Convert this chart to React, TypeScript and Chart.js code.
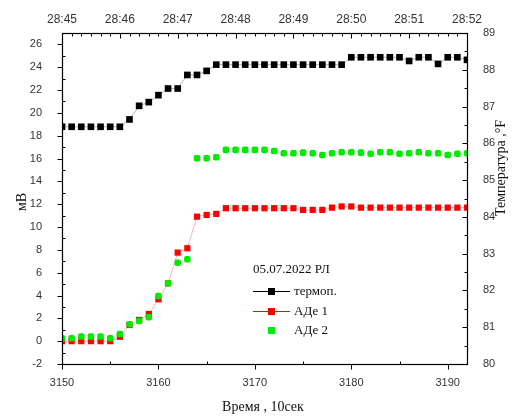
import React, { useEffect, useRef } from 'react';
import { Chart, registerables } from 'chart.js';

Chart.register(...registerables);

// ---- data ----
const timeSteps = [
  3150, 3151, 3152, 3153, 3154, 3155, 3156, 3157, 3158, 3159,
  3160, 3161, 3162, 3163, 3164, 3165, 3166, 3167, 3168, 3169,
  3170, 3171, 3172, 3173, 3174, 3175, 3176, 3177, 3178, 3179,
  3180, 3181, 3182, 3183, 3184, 3185, 3186, 3187, 3188, 3189,
  3190, 3191, 3192,
];
// термоп. (°F, right axis)
const thermoF = [
  86.45, 86.45, 86.45, 86.45, 86.45, 86.45, 86.45, 86.65, 87.02, 87.12,
  87.31, 87.49, 87.49, 87.86, 87.86, 87.97, 88.14, 88.14, 88.14, 88.14,
  88.14, 88.14, 88.14, 88.14, 88.14, 88.14, 88.14, 88.14, 88.14, 88.14,
  88.34, 88.34, 88.34, 88.34, 88.34, 88.34, 88.24, 88.34, 88.34, 88.16,
  88.34, 88.34, 88.27,
];
// АДе 1 (mV, left axis)
const ade1 = [
  0, 0, 0, 0, 0, 0, 0.39, 1.42, 1.86, 2.38,
  3.67, 5.07, 7.76, 8.14, 10.91, 11.06, 11.15, 11.65, 11.65, 11.65,
  11.65, 11.65, 11.65, 11.65, 11.65, 11.5, 11.5, 11.5, 11.7, 11.8,
  11.8, 11.7, 11.7, 11.7, 11.7, 11.7, 11.7, 11.7, 11.7, 11.7,
  11.7, 11.7, 11.7,
];
// АДе 2 (mV, left axis)
const ade2 = [
  0.25, 0.25, 0.4, 0.4, 0.4, 0.25, 0.63, 1.48, 1.77, 2.09,
  3.96, 5.07, 6.88, 7.18, 16.03, 16.03, 16.12, 16.76, 16.76, 16.76,
  16.76, 16.76, 16.67, 16.47, 16.47, 16.52, 16.47, 16.32, 16.47, 16.55,
  16.55, 16.52, 16.42, 16.55, 16.55, 16.42, 16.47, 16.55, 16.47, 16.47,
  16.32, 16.42, 16.47,
];

const bottomTicks = [3150, 3160, 3170, 3180, 3190];
const topTickValues = [3150, 3156, 3162, 3168, 3174, 3180, 3186, 3192];
const topTickLabels = ['28:45', '28:46', '28:47', '28:48', '28:49', '28:50', '28:51', '28:52'];
const leftTicks = [-2, 0, 2, 4, 6, 8, 10, 12, 14, 16, 18, 20, 22, 24, 26];
const rightTicks = [80, 81, 82, 83, 84, 85, 86, 87, 88, 89];

const legendTitle = '05.07.2022 РЛ';
const seriesNames = ['термоп.', 'АДе 1', 'АДе 2'];
const xTitle = 'Время , 10сек';
const yTitle = 'мВ';
const y2Title = 'Температура ,°F';

const BLACK = '#000000';
const RED = 'rgb(255,0,0)';
const GREEN = 'rgb(0,235,0)';

const SERIF = '"Liberation Serif", "DejaVu Serif", serif';
const SANS = '"Liberation Sans", Arial, sans-serif';

const framePlugin = {
  id: 'framePlugin',
  afterDraw(chart: any) {
    const ctx = chart.ctx;
    const { left, right, top, bottom } = chart.chartArea;
    const sx = chart.scales.x;
    const sx2 = chart.scales.x2;
    const sy = chart.scales.y;
    const sy2 = chart.scales.y2;
    ctx.save();
    ctx.strokeStyle = '#000';
    ctx.lineWidth = 1.2;
    const L = Math.round(left) + 0.5;
    const R = Math.round(right) + 0.5;
    const T = Math.round(top) + 0.5;
    const B = Math.round(bottom) + 0.5;
    ctx.strokeRect(L, T, R - L, B - T);
    ctx.lineWidth = 1;
    ctx.beginPath();
    // left axis: major outward, minor inward
    for (let v = -2; v <= 27; v++) {
      const y = Math.round(sy.getPixelForValue(v)) + 0.5;
      if (v % 2 === 0) { ctx.moveTo(L - 5, y); ctx.lineTo(L, y); }
      else { ctx.moveTo(L, y); ctx.lineTo(L + 3, y); }
    }
    // right axis: inward
    for (let v = 80; v <= 89; v += 0.5) {
      const y = Math.round(sy2.getPixelForValue(v)) + 0.5;
      const len = Number.isInteger(v) ? 5 : 3;
      ctx.moveTo(R - len, y); ctx.lineTo(R, y);
    }
    // bottom axis
    for (let v = 3150; v <= 3192; v += 5) {
      const x = Math.round(sx.getPixelForValue(v)) + 0.5;
      if (v % 10 === 0) { ctx.moveTo(x, B); ctx.lineTo(x, B + 5); }
      else { ctx.moveTo(x, B); ctx.lineTo(x, B - 3); }
    }
    // top axis
    for (let v = 3150; v <= 3192; v += 1) {
      const x = Math.round(sx2.getPixelForValue(v)) + 0.5;
      const len = (v - 3150) % 6 === 0 ? 5 : 3;
      ctx.moveTo(x, T); ctx.lineTo(x, T + len);
    }
    ctx.stroke();

    // axis titles
    ctx.fillStyle = '#111';
    ctx.font = `14px ${SERIF}`;
    ctx.textAlign = 'center';
    ctx.textBaseline = 'middle';
    ctx.fillText(xTitle, 263, 407);
    ctx.save();
    ctx.translate(22, 202);
    ctx.rotate(-Math.PI / 2);
    ctx.fillText(yTitle, 0, 0);
    ctx.restore();
    ctx.save();
    ctx.translate(501, 168);
    ctx.rotate(-Math.PI / 2);
    ctx.fillText(y2Title, 0, 0);
    ctx.restore();

    // legend
    ctx.textAlign = 'left';
    ctx.font = `13px ${SERIF}`;
    ctx.fillText(legendTitle, 253, 270);
    const rows = [
      { name: seriesNames[0], color: BLACK, line: true, y: 291 },
      { name: seriesNames[1], color: RED, line: true, y: 311 },
      { name: seriesNames[2], color: GREEN, line: false, y: 330 },
    ];
    rows.forEach((r) => {
      if (r.line) {
        ctx.strokeStyle = r.color;
        ctx.lineWidth = 1;
        ctx.beginPath();
        ctx.moveTo(253, r.y + 0.5);
        ctx.lineTo(290, r.y + 0.5);
        ctx.stroke();
      }
      ctx.fillStyle = r.color;
      ctx.fillRect(268, r.y - 3, 7, 7);
      ctx.fillStyle = '#111';
      ctx.fillText(r.name, 294, r.y + 1);
    });
    ctx.restore();
  },
};

export default function App() {
  const ref = useRef<HTMLCanvasElement | null>(null);
  useEffect(() => {
    if (!ref.current) return;
    const pts = (arr: number[]) => timeSteps.map((t, i) => ({ x: t, y: arr[i] }));
    const chart = new Chart(ref.current, {
      type: 'line',
      data: {
        datasets: [
          {
            label: seriesNames[2],
            data: pts(ade2),
            yAxisID: 'y',
            xAxisID: 'x',
            showLine: false,
            pointStyle: 'rectRounded',
            pointRadius: 3.8,
            pointBorderWidth: 0,
            backgroundColor: GREEN,
            borderColor: GREEN,
            order: 0,
          },
          {
            label: seriesNames[1],
            data: pts(ade1),
            yAxisID: 'y',
            xAxisID: 'x',
            borderColor: 'rgba(255,0,0,0.3)',
            borderWidth: 1,
            pointStyle: 'rect',
            pointRadius: 4.4,
            pointBorderWidth: 0,
            pointBackgroundColor: RED,
            backgroundColor: RED,
            order: 1,
          },
          {
            label: seriesNames[0],
            data: pts(thermoF),
            yAxisID: 'y2',
            xAxisID: 'x',
            borderColor: 'rgba(0,0,0,0.3)',
            borderWidth: 1,
            pointStyle: 'rect',
            pointRadius: 4.7,
            pointBorderWidth: 0,
            pointBackgroundColor: BLACK,
            backgroundColor: BLACK,
            order: 2,
          },
        ],
      },
      options: {
        responsive: false,
        animation: false,
        maintainAspectRatio: false,
        layout: { padding: 0 },
        plugins: { legend: { display: false }, tooltip: { enabled: false } },
        scales: {
          x: {
            type: 'linear',
            position: 'bottom',
            min: 3150,
            max: 3192,
            grid: { display: false },
            border: { display: false },
            afterBuildTicks: (s: any) => { s.ticks = bottomTicks.map((v) => ({ value: v })); },
            afterFit: (s: any) => { s.height = 53; },
            ticks: {
              autoSkip: false,
              maxRotation: 0,
              padding: 4,
              color: '#333',
              font: { family: SANS, size: 11 },
              callback: (v: any) => String(v),
            },
          },
          x2: {
            type: 'linear',
            position: 'top',
            min: 3150,
            max: 3192,
            grid: { display: false },
            border: { display: false },
            afterBuildTicks: (s: any) => { s.ticks = topTickValues.map((v) => ({ value: v })); },
            afterFit: (s: any) => { s.height = 33; },
            ticks: {
              autoSkip: false,
              maxRotation: 0,
              padding: -2,
              color: '#333',
              font: { family: SANS, size: 12 },
              callback: (v: any) => topTickLabels[topTickValues.indexOf(Number(v))] ?? '',
            },
          },
          y: {
            type: 'linear',
            position: 'left',
            min: -2,
            max: 27,
            grid: { display: false },
            border: { display: false },
            afterBuildTicks: (s: any) => { s.ticks = leftTicks.map((v) => ({ value: v })); },
            afterFit: (s: any) => { s.width = 62; },
            ticks: {
              autoSkip: false,
              padding: 12,
              color: '#333',
              font: { family: SANS, size: 11 },
              callback: (v: any) => String(v),
            },
          },
          y2: {
            type: 'linear',
            position: 'right',
            min: 80,
            max: 89,
            grid: { display: false },
            border: { display: false },
            afterBuildTicks: (s: any) => { s.ticks = rightTicks.map((v) => ({ value: v })); },
            afterFit: (s: any) => { s.width = 45; },
            ticks: {
              autoSkip: false,
              padding: 8,
              color: '#333',
              font: { family: SANS, size: 11 },
              callback: (v: any) => String(v),
            },
          },
        },
      },
      plugins: [framePlugin],
    } as any);
    return () => chart.destroy();
  }, []);

  return (
    <div style={{ position: 'fixed', left: 0, top: 0, width: 512, height: 417, background: '#fff' }}>
      <canvas ref={ref} width={512} height={417} style={{ width: 512, height: 417, display: 'block' }} />
    </div>
  );
}
